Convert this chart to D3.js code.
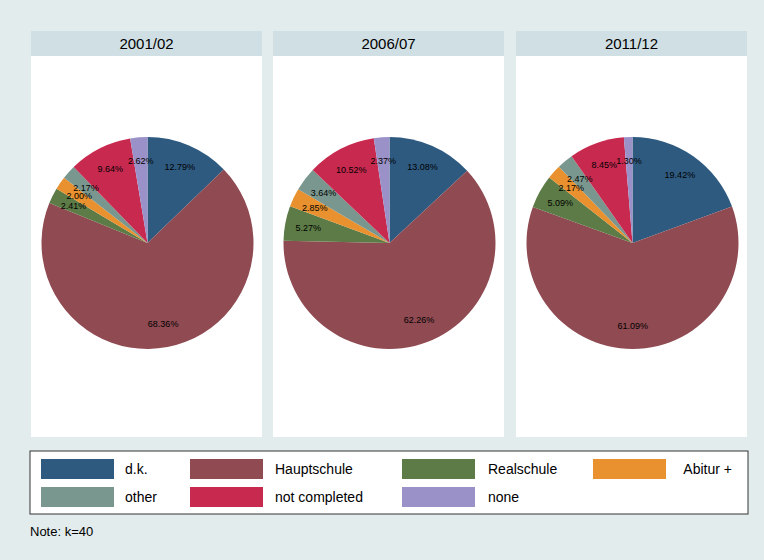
<!DOCTYPE html>
<html>
<head>
<meta charset="UTF-8">
<script src="https://d3js.org/d3.v7.min.js"></script>
<style>body{margin:0;background:#e2ecec}svg{display:block;font-family:"Liberation Sans",Arial,sans-serif}</style>
</head>
<body>
<svg width="764" height="560"></svg>
<script>
const years = ["2001/02", "2006/07", "2011/12"];
const categories = ["d.k.", "Hauptschule", "Realschule", "Abitur +", "other", "not completed", "none"];
const colors = ["#2e5a80", "#8f4a52", "#5c7b46", "#e8912e", "#7a978f", "#c8294f", "#9a91c8"];
const shares2001 = [12.79, 68.36, 2.41, 2.00, 2.17, 9.64, 2.62];
const shares2006 = [13.08, 62.26, 5.27, 2.85, 3.64, 10.52, 2.37];
const shares2011 = [19.42, 61.09, 5.09, 2.17, 2.47, 8.45, 1.30];
const series = [shares2001, shares2006, shares2011];

const svg = d3.select("svg");
svg.append("rect").attr("width", 764).attr("height", 560).attr("fill", "#e2ecec");

const panelX = [31, 273, 516], panelW = 231;
const pie = d3.pie().sort(null).value(d => d);
const r = 106;
const arc = d3.arc().innerRadius(0).outerRadius(r);
const labelArc = d3.arc().innerRadius(r * 0.78).outerRadius(r * 0.78);

series.forEach((vals, i) => {
  const g = svg.append("g").attr("transform", `translate(${panelX[i]},31)`);
  g.append("rect").attr("width", panelW).attr("height", 25).attr("fill", "#cfdfe3");
  g.append("text").attr("x", panelW / 2).attr("y", 18).attr("text-anchor", "middle")
    .attr("font-size", 15).text(years[i]);
  g.append("rect").attr("y", 25).attr("width", panelW).attr("height", 381).attr("fill", "#fff");
  const p = g.append("g").attr("transform", `translate(${panelW / 2 + 1},212)`);
  const arcs = pie(vals);
  p.selectAll("path").data(arcs).enter().append("path")
    .attr("d", arc).attr("fill", (d, j) => colors[j]);
  p.selectAll("text").data(arcs).enter().append("text")
    .attr("transform", d => `translate(${labelArc.centroid(d)})`)
    .attr("text-anchor", "middle").attr("dy", "0.35em").attr("font-size", 9)
    .text(d => d.data.toFixed(2) + "%");
});

// legend
const lg = svg.append("g").attr("transform", "translate(30,451)");
lg.append("rect").attr("width", 718).attr("height", 63).attr("fill", "#fff").attr("stroke", "#333").attr("stroke-width", 1);
const colX = [11, 160, 372, 563];
const textX = [95, 245, 458];
categories.forEach((c, j) => {
  const col = j % 4, row = Math.floor(j / 4);
  const x = colX[col], y = 8 + row * 28;
  lg.append("rect").attr("x", x).attr("y", y).attr("width", 73).attr("height", 20).attr("fill", colors[j]);
  lg.append("text").attr("x", col === 3 ? 702 : textX[col]).attr("y", y + 15)
    .attr("text-anchor", col === 3 ? "end" : "start").attr("font-size", 14).text(c);
});
svg.append("text").attr("x", 30).attr("y", 536).attr("font-size", 13).text("Note: k=40");
</script>
</body>
</html>
